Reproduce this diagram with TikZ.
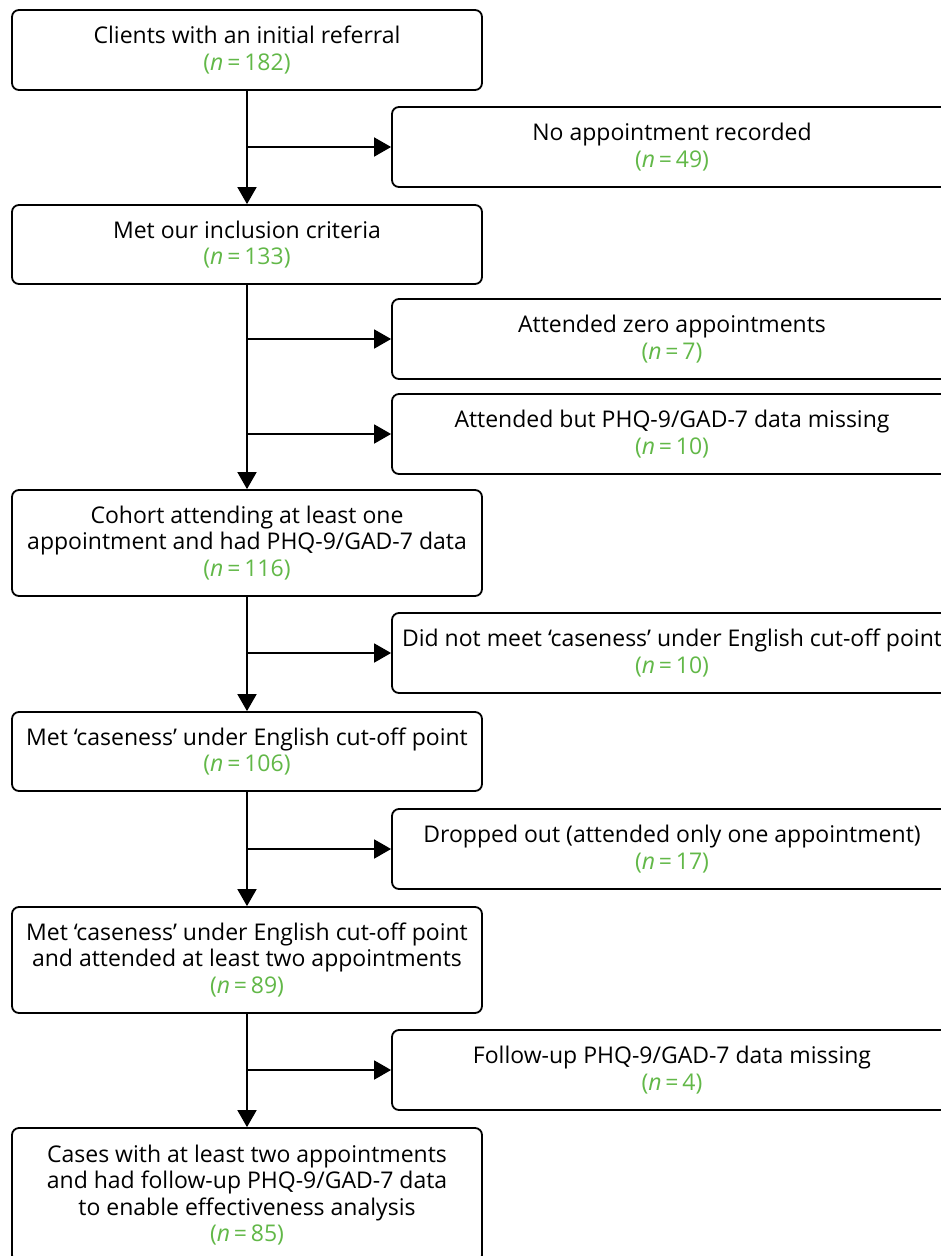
\documentclass[tikz,border=0pt]{standalone}
\usepackage{fontspec}
\setmainfont{Open Sans}
\usetikzlibrary{arrows.meta}
\definecolor{ngreen}{RGB}{98,184,72}
\newcommand{\ncount}[1]{{\color{ngreen}(\textit{n}\,=\,#1)}}
\tikzset{
  box/.style={draw=black, line width=1.8pt, rounded corners=7pt, align=center,
    font=\fontsize{23}{26.5}\selectfont, inner sep=0pt},
  mainbox/.style={box, minimum width=470pt},
  sidebox/.style={box, minimum width=560pt, minimum height=80pt},
  flow/.style={line width=1.8pt, -{Triangle[length=17pt,width=19pt]}}
}
\begin{document}
\begin{tikzpicture}[x=1pt, y=-1pt]
\useasboundingbox (0,0) rectangle (941,1256);
\clip (0,0) rectangle (941,1256);
\fill[white] (0,0) rectangle (941,1256);

% main column
\node[mainbox, minimum height=80pt]  (m1) at (247,50)    {Clients with an initial referral\\ \ncount{182}};
\node[mainbox, minimum height=79pt]  (m2) at (247,244.5) {Met our inclusion criteria\\ \ncount{133}};
\node[mainbox, minimum height=106pt] (m3) at (247,543)   {Cohort attending at least one\\ appointment and had PHQ-9/GAD-7 data\\ \ncount{116}};
\node[mainbox, minimum height=79pt]  (m4) at (247,751.5) {Met `caseness' under English cut-off point\\ \ncount{106}};
\node[mainbox, minimum height=106pt] (m5) at (247,960)   {Met `caseness' under English cut-off point\\ and attended at least two appointments\\ \ncount{89}};
\node[mainbox, minimum height=134pt] (m6) at (247,1195)  {Cases with at least two appointments\\ and had follow-up PHQ-9/GAD-7 data\\ to enable effectiveness analysis\\ \ncount{85}};

% exclusions
\node[sidebox] (s1) at (672,147)  {No appointment recorded\\ \ncount{49}};
\node[sidebox] (s2) at (672,339)  {Attended zero appointments\\ \ncount{7}};
\node[sidebox] (s3) at (672,434)  {Attended but PHQ-9/GAD-7 data missing\\ \ncount{10}};
\node[sidebox] (s4) at (672,653)  {Did not meet `caseness' under English cut-off point\\ \ncount{10}};
\node[sidebox] (s5) at (672,849)  {Dropped out (attended only one appointment)\\ \ncount{17}};
\node[sidebox] (s6) at (672,1070) {Follow-up PHQ-9/GAD-7 data missing\\ \ncount{4}};

% branch points on the main line
\coordinate (j1) at (247,147);
\coordinate (j2) at (247,339);
\coordinate (j3) at (247,434);
\coordinate (j4) at (247,653);
\coordinate (j5) at (247,849);
\coordinate (j6) at (247,1070);

\draw[flow] (m1.south) -- (m2.north);
\draw[flow] (m2.south) -- (m3.north);
\draw[flow] (m3.south) -- (m4.north);
\draw[flow] (m4.south) -- (m5.north);
\draw[flow] (m5.south) -- (m6.north);

\draw[flow] (j1) -- (s1.west);
\draw[flow] (j2) -- (s2.west);
\draw[flow] (j3) -- (s3.west);
\draw[flow] (j4) -- (s4.west);
\draw[flow] (j5) -- (s5.west);
\draw[flow] (j6) -- (s6.west);
\end{tikzpicture}
\end{document}
